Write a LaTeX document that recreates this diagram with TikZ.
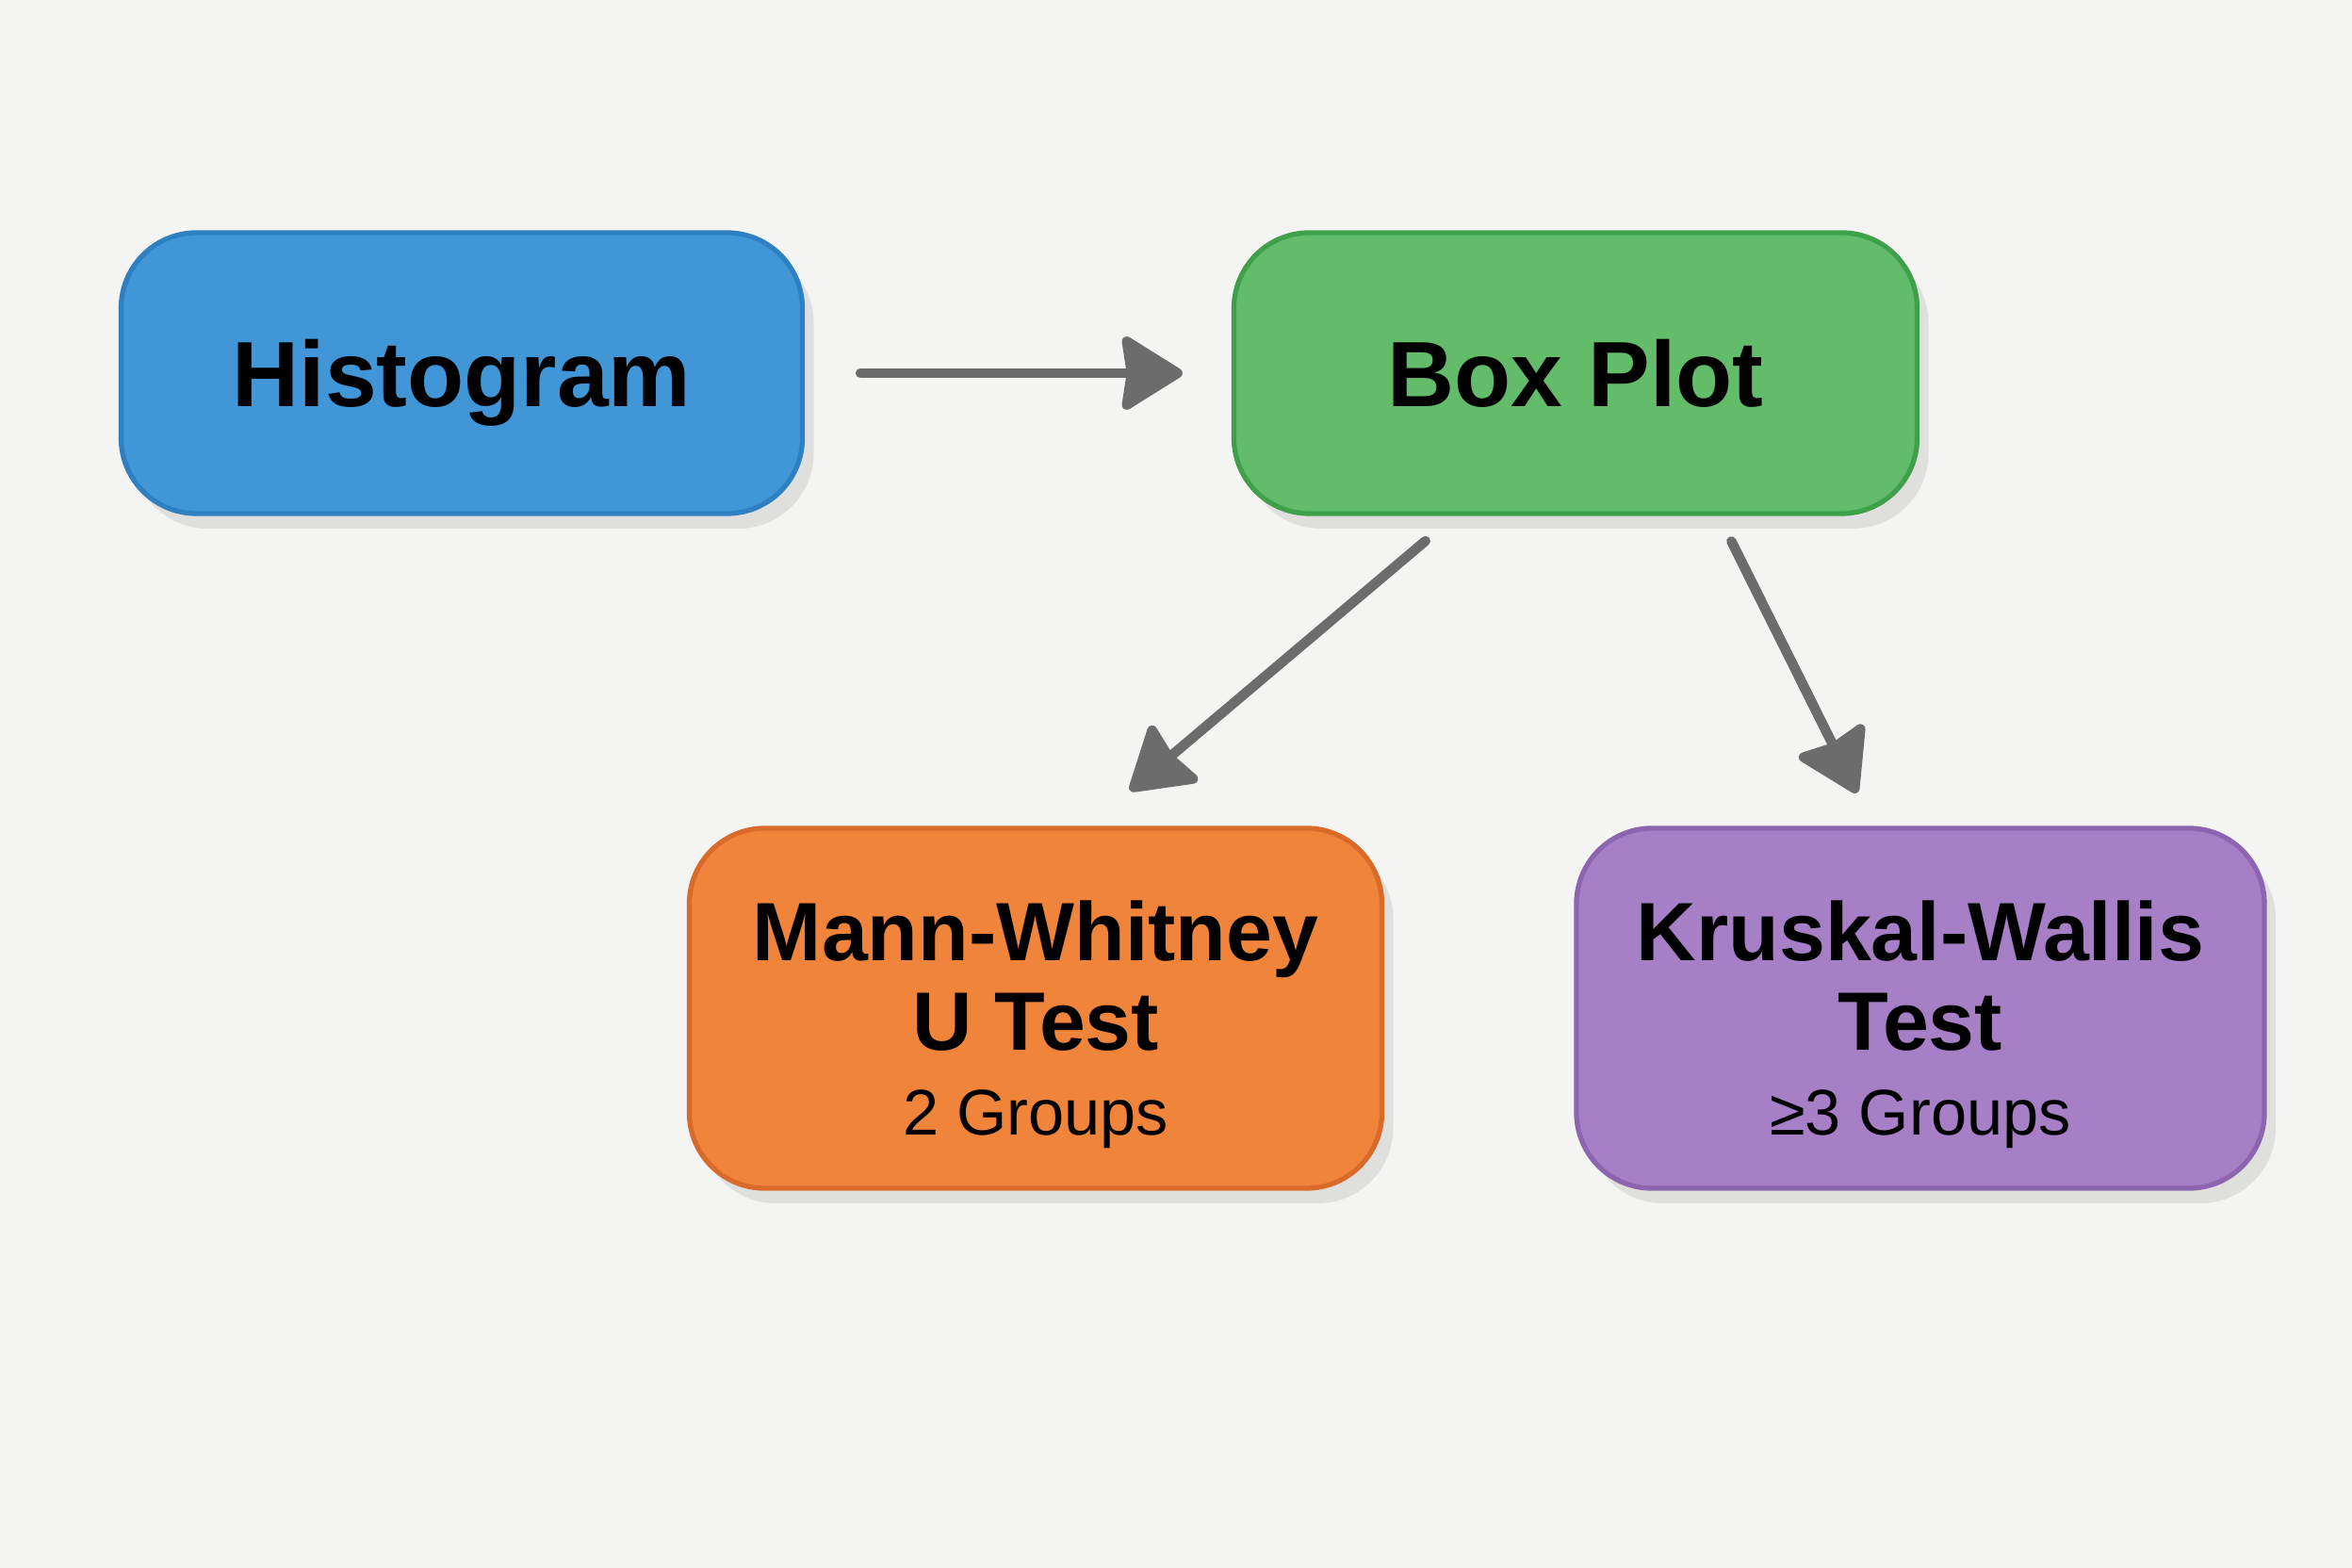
\documentclass[tikz,border=0pt]{standalone}
\usepackage{fontspec}
\setmainfont{Liberation Sans}
\usetikzlibrary{arrows.meta,shadows}

\definecolor{paper}{HTML}{F4F4F2}
\definecolor{histblue}{HTML}{4096D6}
\definecolor{histedge}{HTML}{2F80C2}
\definecolor{boxgreen}{HTML}{63BC69}
\definecolor{boxedge}{HTML}{40A04A}
\definecolor{mannorange}{HTML}{F0843B}
\definecolor{mannedge}{HTML}{D96A2A}
\definecolor{kruspurple}{HTML}{A77FC6}
\definecolor{krusedge}{HTML}{8C64AF}
\definecolor{arrowgray}{HTML}{6C6C6C}

\tikzset{>={Stealth[length=7mm,width=8.6mm,inset=0.6mm,round]}}
\tikzset{
  stepbox/.style={rounded corners=0.8cm, line width=1.5pt, align=center,
    drop shadow={opacity=0.18, shadow xshift=0.12cm, shadow yshift=-0.16cm}},
  flow/.style={->, arrowgray, line width=3pt, line cap=round}
}
\newcommand{\bigtitle}{\fontsize{28}{32}\selectfont\bfseries}
\newcommand{\testtitle}{\fontsize{25}{27}\selectfont\bfseries}
\newcommand{\groups}{\fontsize{19.5}{26}\selectfont\mdseries}
\newcommand{\topstrut}{\rule{0pt}{0.98cm}}

\begin{document}
\begin{tikzpicture}
  \fill[paper] (0,0) rectangle (24.96,-16.64);
  \useasboundingbox (0,0) rectangle (24.96,-16.64);

  \node[stepbox, fill=histblue, draw=histedge, minimum width=7.23cm, minimum height=2.98cm,
        font=\bigtitle, text depth=0pt] (hist) at (4.9,-3.96) {Histogram};
  \node[stepbox, fill=boxgreen, draw=boxedge, minimum width=7.25cm, minimum height=2.98cm,
        font=\bigtitle, text depth=0pt] (boxplot) at (16.72,-3.96) {Box Plot};
  \node[stepbox, fill=mannorange, draw=mannedge, minimum width=7.35cm, minimum height=3.82cm,
        font=\testtitle] (mann) at (10.99,-10.70) {\topstrut Mann-Whitney\\U Test\\[-1.5pt]{\groups 2 Groups}};
  \node[stepbox, fill=kruspurple, draw=krusedge, minimum width=7.3cm, minimum height=3.82cm,
        font=\testtitle] (krus) at (20.38,-10.70) {\topstrut Kruskal-Wallis\\Test\\[-1.5pt]{\groups ≥3 Groups}};

  \draw[flow, shorten <=0.59cm, shorten >=0.52cm] (hist.east) -- (boxplot.west);
  \draw[flow, shorten <=0.41cm, shorten >=0.58cm] ([xshift=-1.28cm]boxplot.south) -- ([xshift=0.56cm]mann.north);
  \draw[flow, shorten <=0.30cm, shorten >=0.39cm] ([xshift=1.52cm]boxplot.south) -- ([xshift=-0.50cm]krus.north);
\end{tikzpicture}
\end{document}
